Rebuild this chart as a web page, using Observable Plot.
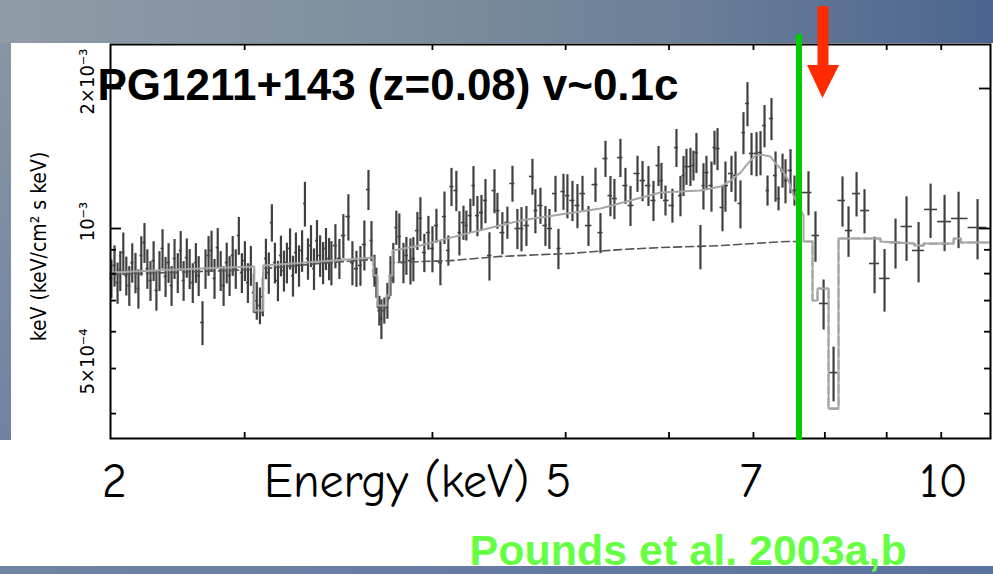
<!DOCTYPE html>
<html><head><meta charset="utf-8">
<script src="https://cdn.jsdelivr.net/npm/d3@7"></script>
<script src="https://cdn.jsdelivr.net/npm/@observablehq/plot@0.6"></script>
<style>
html,body{margin:0;padding:0;background:#fff;}
#slide{position:relative;width:993px;height:574px;overflow:hidden;background:#fff;}
#hdr{position:absolute;left:0;top:0;width:993px;height:43px;background:linear-gradient(90deg,#8f9ca7 0%,#7f8e9e 40%,#6a7e98 70%,#4b6590 100%);}
#lstrip{position:absolute;left:0;top:43px;width:11px;height:397px;background:linear-gradient(180deg,#8896a3,#6f82a2);}
#bbar{position:absolute;left:0;top:566px;width:993px;height:8px;background:linear-gradient(90deg,#7084a3,#5a72a0);}
#chart{position:absolute;left:0;top:0;width:993px;height:574px;}
</style></head><body>
<div id="slide"><div id="hdr"></div><div id="lstrip"></div><div id="bbar"></div><div id="chart"></div></div>
<script>
// ---- spectrum data: bin centre energy (keV), flux (units of 1e-3 keV^2 ph/cm^2/s/keV), 1-sigma error
const energy = [
1.500,1.510,1.520,1.529,1.539,1.549,1.559,1.569,1.580,1.590,
1.600,1.611,1.621,1.632,1.643,1.653,1.664,1.675,1.686,1.697,
1.708,1.719,1.731,1.742,1.753,1.765,1.776,1.788,1.800,1.811,
1.826,1.838,1.850,1.862,1.874,1.887,1.899,1.911,1.924,1.936,
1.949,1.962,1.975,1.988,2.001,2.014,2.027,2.040,2.053,2.067,
2.080,2.094,2.107,2.121,2.135,2.149,2.163,2.177,2.191,2.206,
2.220,2.234,2.249,2.264,2.278,2.293,2.308,2.323,2.338,2.354,
2.369,2.384,2.400,
2.412,2.433,2.454,2.475,2.502,2.524,2.546,2.568,2.590,2.613,
2.630,2.647,2.658,2.675,2.687,2.704,2.722,2.740,2.757,2.775,
2.793,2.818,2.836,2.861,2.879,2.904,2.923,2.948,2.974,3.000,
3.026,3.052,3.079,3.105,3.126,3.159,3.180,3.208,3.228,3.256,
3.278,3.306,3.335,3.364,3.393,3.430,3.452,3.489,3.527,3.566,
3.604,3.636,3.675,3.723,3.747,3.788,3.829,3.862,3.913,3.938,
3.981,4.015,4.059,4.103,4.148,4.202,4.266,4.312,4.359,4.406,
4.444,4.502,4.551,4.601,4.671,4.722,4.783,4.835,4.888,
4.919,4.962,5.037,5.081,5.125,5.159,5.192,5.237,5.271,5.305,
5.351,5.386,5.421,5.480,5.516,5.552,5.612,5.648,5.722,5.772,
5.834,5.872,5.923,5.975,6.040,6.092,6.145,6.185,6.238,6.293,
6.334,6.389,6.430,6.500,6.556,
6.757,6.860,6.981,7.133,7.272,7.367,7.496,7.626,7.793,7.963,
8.154,8.350,8.570,8.795,9.065,9.343,9.734
];
const flux = [
0.781,0.833,0.765,0.812,0.888,0.792,0.754,0.845,0.804,0.743,
0.875,0.933,0.820,0.773,0.853,0.736,0.812,0.906,0.789,0.845,
0.754,0.862,0.804,0.897,0.773,0.866,0.820,0.765,0.845,0.792,
0.628,0.820,0.875,0.897,0.781,0.910,0.812,0.754,0.845,0.792,
0.875,0.820,0.966,0.804,0.853,0.765,0.833,0.728,0.700,0.683,
0.714,0.862,0.804,1.030,0.845,0.773,0.875,0.812,0.845,0.906,
0.792,0.888,0.833,0.897,1.132,0.862,0.919,0.820,0.942,0.875,
0.845,0.906,0.862,
0.845,0.919,0.862,0.966,1.061,0.845,0.820,0.833,0.924,1.213,
0.942,0.812,0.765,0.666,0.640,0.666,0.700,0.792,0.845,1.005,
0.961,0.845,0.875,0.853,0.862,0.990,1.051,0.888,0.980,0.906,
1.015,0.845,1.061,0.897,1.231,1.207,0.980,1.030,1.015,1.066,
1.237,1.066,1.082,1.149,0.875,1.207,1.093,0.980,1.030,1.250,
1.000,1.000,1.015,1.294,1.093,1.121,1.015,1.000,1.189,0.906,
1.201,1.177,1.149,1.121,1.189,1.015,1.243,0.980,1.414,1.177,
1.160,1.421,1.237,1.121,1.313,1.268,1.237,1.149,1.366,
1.268,1.149,1.121,1.493,1.177,1.300,1.359,1.359,1.366,1.457,
0.915,1.237,1.319,1.237,1.493,1.486,1.110,1.237,1.313,1.300,
1.132,1.608,1.857,1.450,1.450,1.457,1.665,1.207,1.724,1.300,
1.160,1.333,1.268,1.333,1.207,
1.195,0.966,0.690,0.490,1.149,0.990,1.189,1.093,0.841,0.781,
0.933,1.010,0.897,1.099,1.035,1.051,1.005
];
const fluxErr = [
0.075,0.085,0.078,0.080,0.090,0.076,0.074,0.082,0.080,0.072,
0.085,0.092,0.080,0.076,0.084,0.072,0.080,0.088,0.078,0.083,
0.074,0.085,0.079,0.088,0.076,0.084,0.081,0.075,0.083,0.078,
0.068,0.080,0.086,0.090,0.077,0.090,0.080,0.074,0.085,0.078,
0.086,0.080,0.090,0.079,0.084,0.075,0.082,0.070,0.065,0.062,
0.068,0.086,0.082,0.095,0.085,0.077,0.088,0.082,0.085,0.092,
0.080,0.090,0.085,0.092,0.125,0.088,0.095,0.084,0.098,0.090,
0.088,0.094,0.090,
0.092,0.100,0.085,0.105,0.121,0.092,0.073,0.082,0.114,0.120,
0.093,0.064,0.057,0.049,0.063,0.043,0.062,0.078,0.084,0.085,
0.114,0.084,0.082,0.097,0.094,0.093,0.114,0.084,0.082,0.103,
0.085,0.092,0.137,0.067,0.116,0.120,0.107,0.087,0.075,0.090,
0.122,0.106,0.096,0.125,0.104,0.131,0.097,0.102,0.082,0.111,
0.099,0.109,0.100,0.115,0.119,0.100,0.100,0.099,0.106,0.090,
0.107,0.128,0.114,0.122,0.106,0.100,0.105,0.097,0.126,0.117,
0.115,0.134,0.110,0.111,0.117,0.126,0.122,0.114,0.135,
0.113,0.085,0.094,0.140,0.117,0.129,0.121,0.128,0.101,0.144,
0.100,0.141,0.111,0.153,0.126,0.154,0.126,0.153,0.117,0.161,
0.134,0.167,0.202,0.151,0.158,0.159,0.173,0.090,0.179,0.161,
0.069,0.112,0.138,0.145,0.090,
0.130,0.120,0.085,0.066,0.142,0.123,0.130,0.119,0.117,0.120,
0.115,0.160,0.133,0.147,0.143,0.146,0.149
];

// ---- best-fit model (solid) and continuum with absorption only (dashed)
const modelE = [1.497,1.817,2.042,2.042,2.082,2.082,2.407,2.641,2.641,2.664,2.664,2.716,2.716,2.734,2.734,2.752,2.752,2.923,3.256,3.628,4.312,4.908,5.351,5.588,5.710,5.834,5.936,6.027,6.118,6.225,6.293,6.388,6.472,6.542,6.613,6.685,6.685,6.816,6.816,6.890,6.890,7.056,7.056,7.210,7.210,7.894,7.894,8.496,8.496,8.663,8.663,9.244,9.244,9.384,9.384,10.01];
const modelF = [0.804,0.820,0.829,0.666,0.666,0.833,0.853,0.866,0.792,0.792,0.683,0.683,0.718,0.718,0.792,0.792,0.897,0.919,0.980,1.040,1.104,1.195,1.207,1.231,1.268,1.319,1.386,1.435,1.440,1.428,1.380,1.333,1.268,1.177,1.121,1.066,0.938,0.938,0.700,0.700,0.743,0.743,0.410,0.410,0.952,0.952,0.938,0.928,0.919,0.919,0.928,0.928,0.952,0.952,0.933,0.933];
const contE = [1.497,2.042,2.042,2.082,2.082,2.407,2.641,2.641,2.664,2.664,2.716,2.716,2.734,2.734,2.752,2.752,3.119,3.474,4.042,4.502,4.908,5.588,6.458,6.816,6.816,6.890,6.890,7.056,7.056,7.210,7.210,7.894,7.894,8.496,8.496,8.663,8.663,9.244,9.244,9.384,9.384,10.01];
const contF = [0.796,0.816,0.660,0.660,0.820,0.845,0.858,0.780,0.780,0.676,0.676,0.707,0.707,0.773,0.773,0.845,0.853,0.871,0.884,0.901,0.910,0.919,0.938,0.938,0.700,0.700,0.743,0.743,0.410,0.410,0.952,0.952,0.938,0.928,0.919,0.919,0.928,0.928,0.952,0.952,0.933,0.933];

// ---- axes
const xDomain = [1.497, 10.01];
const yDomain = [0.3536, 2.487];
const xTickValues = [2, 3, 4, 5, 6, 7, 8, 9];
const yMinorTicks = [0.4, 0.5, 0.6, 0.7, 0.8, 0.9];
const yMajorTicks = [1, 2];
const yTickLabelValues = [2, 1, 0.5];
const yTickLabels = ["2×10⁻³", "10⁻³", "5×10⁻⁴"];
const yAxisTitle = "keV (keV/cm² s keV)";

// ---- slide annotations
const title = "PG1211+143 (z=0.08) v~0.1c";
const credit = "Pounds et al. 2003a,b";
const xAnnotLabels = ["2", "7", "10"];
const xAnnotAt = [1.509, 5.968, 9.045];
const xAnnotTitle = "Energy (keV) 5";
const xAnnotTitleEnd = 4.05;
const markerLineE = [6.62];
const markerLineSpan = [0.35, 2.613];
const arrowE = [6.972];
const arrowShaft = [2.22, 3.0];
const arrowHeadE = [6.743, 6.972, 7.226];
const arrowHeadTop = [2.241, 2.241, 2.241];
const arrowHeadBottom = [2.241, 1.903, 2.241];

// ---- tables built from the arrays
const n = energy.length;
const pts = energy.map((E, i) => {
  let lo, hi;
  if (i > 0) lo = Math.sqrt(energy[i - 1] * E);
  if (i < n - 1) hi = Math.sqrt(E * energy[i + 1]);
  if (i === 0) lo = E * E / hi;
  if (i === n - 1) hi = E * E / lo;
  return {E, F: flux[i], err: fluxErr[i], lo, hi};
});
const model = modelE.map((E, i) => ({E, F: modelF[i]}));
const cont = contE.map((E, i) => ({E, F: contF[i]}));
const head = arrowHeadE.map((E, i) => ({E, top: arrowHeadTop[i], bot: arrowHeadBottom[i]}));

const dataColor = "#404040";
const sansFont = "'Liberation Sans', Arial, Helvetica, sans-serif";
const narrowFont = "'Liberation Sans Narrow', 'Arial Narrow', 'DejaVu Sans Condensed', 'Liberation Sans', sans-serif";
const handFont = "'Comic Sans MS', 'Comic Neue', Roboto, sans-serif";

const chart = Plot.plot({
  width: 993, height: 574,
  marginLeft: 110, marginRight: 3, marginTop: 44, marginBottom: 136,
  x: {type: "log", domain: xDomain, axis: null},
  y: {type: "log", domain: yDomain, axis: null},
  style: {background: "transparent", overflow: "visible"},
  marks: [
    Plot.ruleX(pts, {x: "E", y1: d => d.F - d.err, y2: d => d.F + d.err, stroke: dataColor, strokeWidth: 2.2}),
    Plot.ruleY(pts, {y: "F", x1: "lo", x2: "hi", stroke: dataColor, strokeWidth: 1.6}),
    Plot.line(cont, {x: "E", y: "F", stroke: "#555555", strokeWidth: 1.6, strokeDasharray: "8,4"}),
    Plot.line(model, {x: "E", y: "F", stroke: "#a6a6a6", strokeWidth: 2}),
    // inward ticks
    Plot.tickX(xTickValues, {x: d => d, insetTop: 388, stroke: "black", strokeWidth: 1.8}),
    Plot.tickX(xTickValues, {x: d => d, insetBottom: 388, stroke: "black", strokeWidth: 1.8}),
    Plot.tickY(yMinorTicks, {y: d => d, insetRight: 874, stroke: "black", strokeWidth: 1.8}),
    Plot.tickY(yMajorTicks, {y: d => d, insetRight: 869, stroke: "black", strokeWidth: 1.8}),
    Plot.tickY(yMinorTicks, {y: d => d, insetLeft: 874, stroke: "black", strokeWidth: 1.8}),
    Plot.tickY(yMajorTicks, {y: d => d, insetLeft: 869, stroke: "black", strokeWidth: 1.8}),
    Plot.frame({stroke: "black", strokeWidth: 2}),
    // y tick labels and title
    Plot.text(yTickLabelValues, {y: d => d, text: (d, i) => yTickLabels[i], frameAnchor: "left", dx: -17, dy: -7,
      rotate: -90, textAnchor: "middle", lineAnchor: "bottom", fontSize: 20, fontFamily: narrowFont, fill: "black"}),
    Plot.text([yAxisTitle], {text: d => d, frameAnchor: "left", dx: -65, dy: 5,
      rotate: -90, textAnchor: "middle", lineAnchor: "bottom", fontSize: 21, fontFamily: narrowFont, fill: "black"}),
    // hand-written energy labels
    Plot.text(xAnnotLabels, {x: (d, i) => xAnnotAt[i], text: d => d, frameAnchor: "bottom", dy: 58,
      textAnchor: "middle", lineAnchor: "bottom", fontSize: 48, fontFamily: handFont, fill: "black"}),
    Plot.text([xAnnotTitle], {x: () => xAnnotTitleEnd, text: d => d, frameAnchor: "bottom", dy: 58,
      textAnchor: "end", lineAnchor: "bottom", fontSize: 48, fontFamily: handFont, fill: "black"}),
    // green marker line and red arrow
    Plot.ruleX(markerLineE, {x: d => d, y1: () => markerLineSpan[0], y2: () => markerLineSpan[1], stroke: "#00cc00", strokeWidth: 6}),
    Plot.ruleX(arrowE, {x: d => d, y1: () => arrowShaft[0], y2: () => arrowShaft[1], stroke: "#ff2a00", strokeWidth: 11}),
    Plot.areaY(head, {x: "E", y1: "top", y2: "bot", fill: "#ff2a00", curve: "linear"}),
    // title and credit
    Plot.text([title], {text: d => d, frameAnchor: "top-left", dx: -13, dy: 55, textAnchor: "start", lineAnchor: "bottom",
      fontSize: 44, fontWeight: "bold", fontFamily: sansFont, fill: "black"}),
    Plot.text([credit], {text: d => d, frameAnchor: "bottom-left", dx: 359, dy: 126, textAnchor: "start", lineAnchor: "bottom",
      fontSize: 43, fontWeight: "bold", fontFamily: sansFont, fill: "#66ff44"})
  ]
});
document.getElementById("chart").appendChild(chart);
</script>
</body></html>
